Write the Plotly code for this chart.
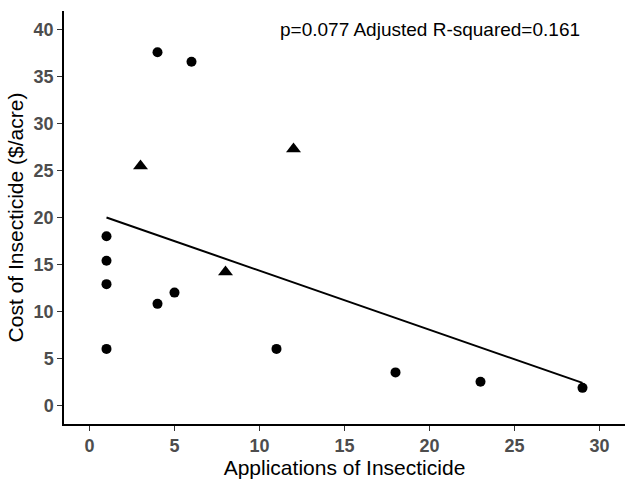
import plotly.graph_objects as go

# Circles
circ_x = [4, 6, 1, 1, 1, 1, 4, 5, 11, 18, 23, 29]
circ_y = [37.6, 36.6, 18.0, 15.4, 12.9, 6.0, 10.8, 12.0, 6.0, 3.5, 2.5, 1.85]
# Triangles
tri_x = [3, 8, 12]
tri_y = [25.5, 14.2, 27.3]
# Fitted line endpoints
fit_x = [1, 29]
fit_y = [20.0, 2.38]

x_ticks = [0, 5, 10, 15, 20, 25, 30]
y_ticks = [0, 5, 10, 15, 20, 25, 30, 35, 40]
label = "p=0.077 Adjusted R-squared=0.161"

FONT = "Liberation Sans, Arial"

fig = go.Figure()
fig.add_trace(go.Scatter(x=fit_x, y=fit_y, mode="lines",
                         line=dict(color="black", width=2), showlegend=False))
fig.add_trace(go.Scatter(x=circ_x, y=circ_y, mode="markers",
                         marker=dict(symbol="circle", size=10, color="black"), showlegend=False))
fig.add_trace(go.Scatter(x=tri_x, y=tri_y, mode="markers",
                         marker=dict(symbol="triangle-up", size=13, color="black"), showlegend=False))

fig.add_annotation(x=20, y=40, text=label, showarrow=False, xanchor="center", yanchor="middle",
                   font=dict(family=FONT, size=19, color="black"))

axis_common = dict(showline=True, linecolor="black", linewidth=1.5, ticks="outside",
                   tickcolor="#333333", ticklen=5, tickwidth=1.2, showgrid=False, zeroline=False,
                   automargin=False,
                   tickfont=dict(family=FONT, size=18, color="#4D4D4D", weight="bold"))

fig.update_layout(
    width=625, height=480,
    margin=dict(l=64, r=0, t=11, b=56),
    paper_bgcolor="white", plot_bgcolor="white",
    xaxis=dict(range=[-1.5, 31.5], tickvals=x_ticks, title=dict(text="Applications of Insecticide",
               font=dict(family=FONT, size=21, color="black"), standoff=4), **axis_common),
    yaxis=dict(range=[-2, 42], tickvals=y_ticks, title=dict(text="Cost of Insecticide ($/acre)",
               font=dict(family=FONT, size=21, color="black"), standoff=4), **axis_common),
)

fig.write_html("out.html", config={"displayModeBar": False},
               post_script="document.body.style.margin='0';document.body.style.overflow='hidden';")
